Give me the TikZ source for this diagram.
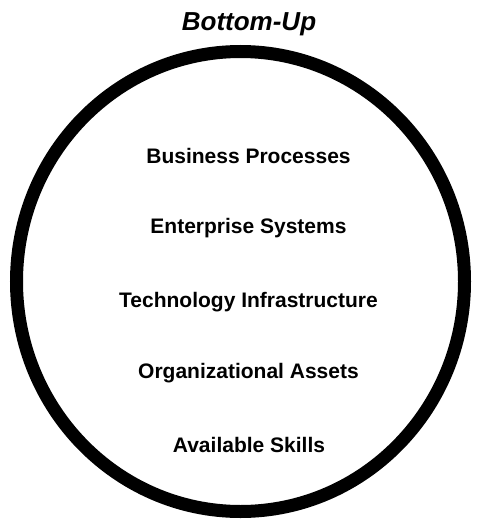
\documentclass[tikz,border=0pt]{standalone}
\usepackage{fontspec}
\setmainfont{Liberation Sans}
\begin{document}
\begin{tikzpicture}[x=1pt,y=-1pt,
  lbl/.style={anchor=base,inner sep=0pt,font=\fontsize{21}{24}\selectfont\bfseries},
  ttl/.style={anchor=base,inner sep=0pt,font=\fontsize{26}{30}\selectfont\bfseries\itshape}]
\useasboundingbox (0,0) rectangle (479,519);
\draw[line width=13pt] (240.5,281.5) ellipse [x radius=224, y radius=230];
\node[ttl] (title) at (249,31) {Bottom-Up};
\node[lbl] (bp) at (248.5,163) {Business Processes};
\node[lbl] (es) at (248.5,233) {Enterprise Systems};
\node[lbl] (ti) at (248.5,307) {Technology Infrastructure};
\node[lbl] (oa) at (248.5,378) {Organizational Assets};
\node[lbl] (as) at (249,452) {Available Skills};
\end{tikzpicture}
\end{document}
